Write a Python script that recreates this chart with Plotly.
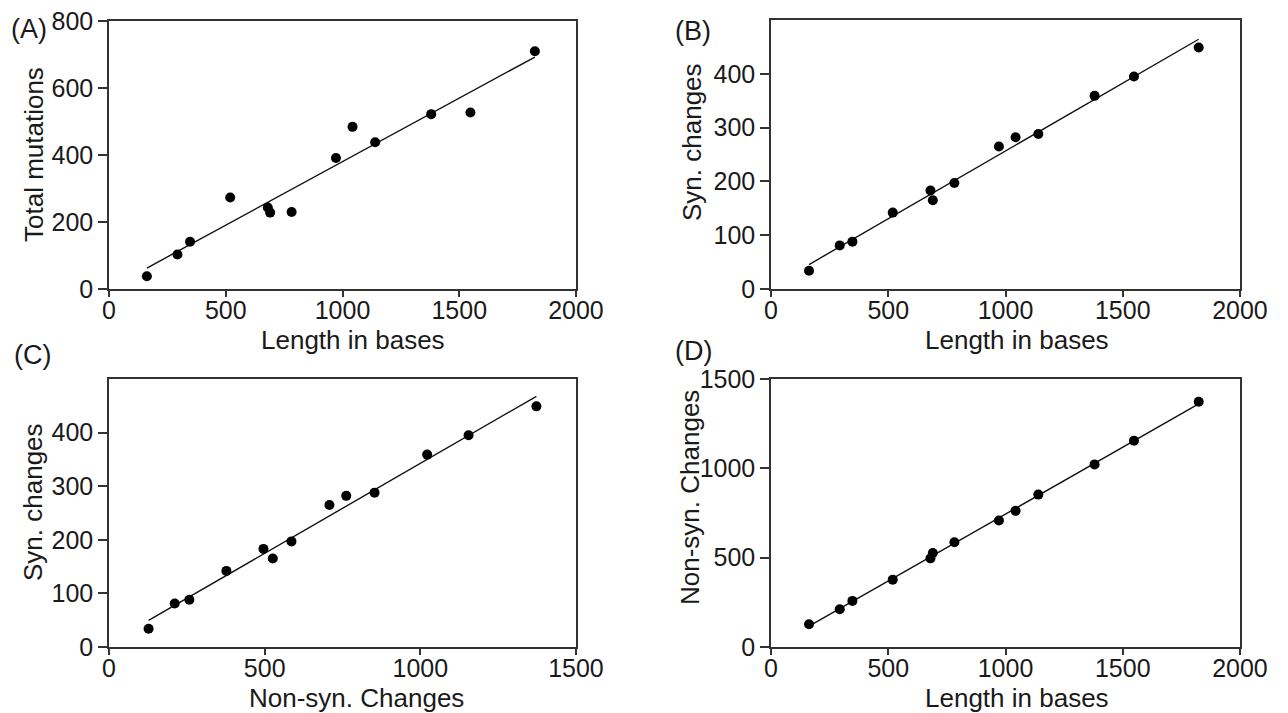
import numpy as np
import plotly.graph_objects as go

# Data
length_bases = [162, 293, 347, 519, 680, 690, 782, 972, 1043, 1140, 1380, 1548, 1824]
total_mutations = [38, 103, 141, 273, 243, 228, 230, 391, 484, 438, 522, 527, 710]
syn_changes = [34, 81, 88, 142, 183, 165, 197, 265, 282, 288, 359, 395, 449]
nonsyn_changes = [127, 211, 258, 377, 496, 526, 586, 708, 762, 853, 1022, 1155, 1373]

panel_labels = ["(A)", "(B)", "(C)", "(D)"]
x_titles = ["Length in bases", "Length in bases", "Non-syn. Changes", "Length in bases"]
y_titles = ["Total mutations", "Syn. changes", "Syn. changes", "Non-syn. Changes"]

FONT = "Liberation Sans, Arial, sans-serif"
TXT = "#1a1a1a"
AX = "#333333"

# page body has an 8px margin: work in screen pixels and convert
OFF = 8
W, H = 1280, 705


def px(sx):
    return (sx - OFF) / W


def py(sy):
    return 1 - (sy - OFF) / H


fig = go.Figure()

panels = [
    (length_bases, total_mutations, "", [0, 2000], [0, 800],
     [0, 200, 400, 600, 800], [0, 500, 1000, 1500, 2000]),
    (length_bases, syn_changes, "2", [0, 2000], [0, 500],
     [0, 100, 200, 300, 400], [0, 500, 1000, 1500, 2000]),
    (nonsyn_changes, syn_changes, "3", [0, 1500], [0, 500],
     [0, 100, 200, 300, 400], [0, 500, 1000, 1500]),
    (length_bases, nonsyn_changes, "4", [0, 2000], [0, 1500],
     [0, 500, 1000, 1500], [0, 500, 1000, 1500, 2000]),
]

# plot-area boxes in screen pixels (left, right, top, bottom)
boxes = [(109, 576, 21, 289), (771, 1240, 20, 289), (109, 576, 379, 647), (771, 1240, 379, 647)]

for (xd, yd, s, xr, yr, ytv, xtv), (l, r, t, b) in zip(panels, boxes):
    xa = "x" + s
    ya = "y" + s
    xv = np.array(xd, dtype=float)
    yv = np.array(yd, dtype=float)
    k, c = np.polyfit(xv, yv, 1)
    xl = np.array([xv.min(), xv.max()])
    fig.add_trace(go.Scatter(x=xl, y=k * xl + c, mode="lines",
                             line=dict(color="#111111", width=1.4),
                             xaxis=xa, yaxis=ya, showlegend=False, hoverinfo="skip",
                             cliponaxis=False))
    fig.add_trace(go.Scatter(x=xd, y=yd, mode="markers",
                             marker=dict(color="#000000", size=10),
                             xaxis=xa, yaxis=ya, showlegend=False, cliponaxis=False))
    common = dict(showgrid=False, zeroline=False, showline=True, mirror=True,
                  linecolor=AX, linewidth=1.5, ticks="outside",
                  tickcolor=AX, tickwidth=1.5, automargin=False,
                  ticklabeloverflow="allow",
                  tickfont=dict(family=FONT, size=25, color=TXT))
    yspan = yr[1] - yr[0]
    xspan = xr[1] - xr[0]
    fig.update_layout(**{
        "xaxis" + s: dict(domain=[px(l), px(r)], anchor=ya,
                          range=[xr[0] - xspan * 1e-4, xr[1] + xspan * 1e-4], tickvals=xtv,
                          ticklen=6, ticklabelstandoff=-8, **common),
        "yaxis" + s: dict(domain=[py(b), py(t)], anchor=xa,
                          range=[yr[0] - yspan * 1e-4, yr[1] + yspan * 1e-4], tickvals=ytv,
                          ticklen=9, **common),
    })

# axis titles (screen pixel centres)
x_title_pos = [(353, 340), (1017, 340), (356, 698), (1017, 698)]
y_title_pos = [(34, 155), (692, 142), (33, 502), (690, 498)]
for txt, (sx, sy) in zip(x_titles, x_title_pos):
    fig.add_annotation(text=txt, x=px(sx), y=py(sy), xref="paper", yref="paper",
                       xanchor="center", yanchor="middle", showarrow=False,
                       font=dict(family=FONT, size=26, color=TXT))
for txt, (sx, sy) in zip(y_titles, y_title_pos):
    fig.add_annotation(text=txt, x=px(sx), y=py(sy), xref="paper", yref="paper",
                       xanchor="center", yanchor="middle", showarrow=False, textangle=-90,
                       font=dict(family=FONT, size=26, color=TXT))

label_pos = [(9, 29), (673, 31), (12, 355), (673, 351)]
for lab, (sx, sy) in zip(panel_labels, label_pos):
    fig.add_annotation(text=lab, x=px(sx), y=py(sy), xref="paper", yref="paper",
                       xanchor="left", yanchor="middle", showarrow=False,
                       font=dict(family=FONT, size=27, color=TXT))

fig.update_layout(width=W, height=H, margin=dict(l=0, r=0, t=0, b=0),
                  paper_bgcolor="white", plot_bgcolor="white", showlegend=False)

fig.write_html("out.html")
